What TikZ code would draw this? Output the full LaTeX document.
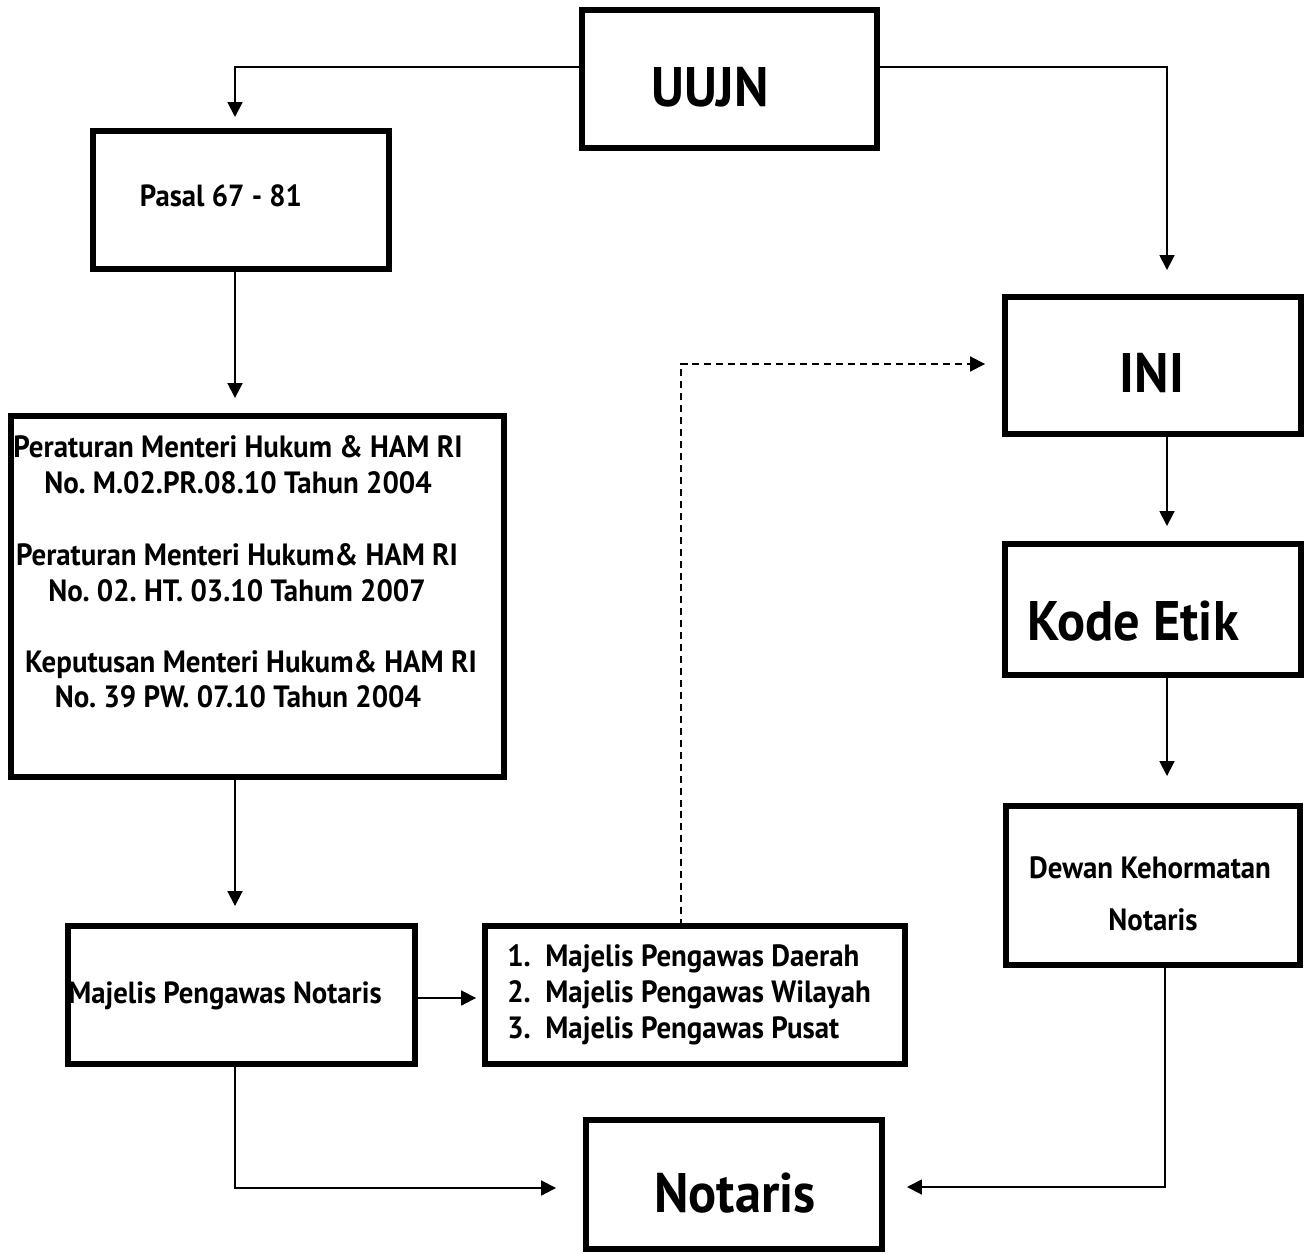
\documentclass[tikz,border=0pt]{standalone}
\usepackage{fontspec}
\setmainfont[FakeStretch=0.94]{PT Sans}
\usetikzlibrary{arrows.meta}
\newcommand{\biglbl}{\fontsize{31.7}{36}\selectfont\bfseries}
\newcommand{\midlbl}{\fontsize{17.4}{21}\selectfont\bfseries}
\newcommand{\smalllbl}{\fontsize{17.5}{20}\selectfont\bfseries}
\frenchspacing
\begin{document}
\begin{tikzpicture}[x=0.02cm,y=-0.02cm,
    box/.style={draw, line width=3.4pt, rectangle, inner sep=0pt, outer sep=0pt},
    arr/.style={line width=1.1pt, -{Triangle[length=8.5pt,width=8.5pt]}},
    dasharr/.style={arr, dash pattern=on 4pt off 2.8pt},
    txt/.style={anchor=base, inner sep=0pt}]
    \useasboundingbox (0,0) rectangle (1307,1253);
    % boxes
    \node[box, minimum width=5.9cm,  minimum height=2.76cm] (uujn)    at (729.5,79)    {};
    \node[box, minimum width=5.92cm, minimum height=2.76cm] (pasal)   at (241,200)     {};
    \node[box, minimum width=9.86cm, minimum height=7.22cm] (perm)    at (257.5,596.5) {};
    \node[box, minimum width=5.92cm, minimum height=2.74cm] (ini)     at (1153,365.5)  {};
    \node[box, minimum width=5.92cm, minimum height=2.62cm] (kode)    at (1153,609.5)  {};
    \node[box, minimum width=5.88cm, minimum height=3.18cm] (dkn)     at (1153,885.5)  {};
    \node[box, minimum width=6.94cm, minimum height=2.76cm] (mpn)     at (241.5,995)   {};
    \node[box, minimum width=8.4cm,  minimum height=2.76cm] (mplist)  at (695,995)     {};
    \node[box, minimum width=5.92cm, minimum height=2.58cm] (notaris) at (734,1184.5)  {};
    % texts
    \node[txt, font=\biglbl] (uujn-t) at (710,107)  {UUJN};
    \node[txt, font=\biglbl] (ini-t)  at (1152,392) {INI};
    \node[txt, font=\biglbl] (kode-t) at (1133,640) {Kode Etik};
    \node[txt, font=\biglbl] (not-t)  at (735,1212) {Notaris};
    \node[txt, font=\midlbl] (pasal-t) at (221,207) {Pasal 67 - 81};
    \node[txt, font=\midlbl] (mpn-t)   at (225,1003) {Majelis Pengawas Notaris};
    \node[txt, font=\smalllbl] (perm-a1) at (238,457) {Peraturan Menteri Hukum \& HAM RI};
    \node[txt, font=\smalllbl] (perm-a2) at (238,493) {No. M.02.PR.08.10 Tahun 2004};
    \node[txt, font=\smalllbl] (perm-b1) at (237,565) {Peraturan Menteri Hukum\& HAM RI};
    \node[txt, font=\smalllbl] (perm-b2) at (237,601) {No. 02. HT. 03.10 Tahum 2007};
    \node[txt, font=\smalllbl] (perm-c1) at (251,672) {Keputusan Menteri Hukum\& HAM RI};
    \node[txt, font=\smalllbl] (perm-c2) at (238,707) {No. 39 PW. 07.10 Tahun 2004};
    \node[txt, font=\smalllbl] (dkn-t1) at (1150,878) {Dewan Kehormatan};
    \node[txt, font=\smalllbl] (dkn-t2) at (1153,930) {Notaris};
    \node[txt, anchor=base west, font=\smalllbl] (mp-1) at (507,966)  {\makebox[0.76cm][l]{1.}Majelis Pengawas Daerah};
    \node[txt, anchor=base west, font=\smalllbl] (mp-2) at (507,1002) {\makebox[0.76cm][l]{2.}Majelis Pengawas Wilayah};
    \node[txt, anchor=base west, font=\smalllbl] (mp-3) at (507,1038) {\makebox[0.76cm][l]{3.}Majelis Pengawas Pusat};
    % connectors
    \draw[arr] ([yshift=0.24cm]uujn.west) -| ([xshift=-0.12cm,yshift=0.28cm]pasal.north);
    \draw[arr] ([yshift=0.24cm]uujn.east) -| ([xshift=0.28cm,yshift=0.54cm]ini.north);
    \draw[arr] ([xshift=-0.12cm]pasal.south) -- ([xshift=-0.45cm,yshift=0.36cm]perm.north);
    \draw[arr] ([xshift=-0.45cm]perm.south) -- ([xshift=-0.13cm,yshift=0.4cm]mpn.north);
    \draw[arr] ([xshift=0.28cm]ini.south) -- ([xshift=0.28cm,yshift=0.36cm]kode.north);
    \draw[arr] ([xshift=0.28cm]kode.south) -- ([xshift=0.28cm,yshift=0.6cm]dkn.north);
    \draw[arr] ([yshift=-0.06cm]mpn.east) -- ([xshift=-0.18cm,yshift=-0.06cm]mplist.west);
    \draw[dasharr] ([xshift=-0.28cm]mplist.north) |- ([xshift=-0.4cm,yshift=0.03cm]ini.west);
    \draw[arr] ([xshift=-0.13cm]mpn.south) |- ([xshift=-0.6cm,yshift=-0.07cm]notaris.west);
    \draw[arr] ([xshift=0.24cm]dkn.south) |- ([xshift=0.5cm,yshift=-0.05cm]notaris.east);
\end{tikzpicture}
\end{document}
